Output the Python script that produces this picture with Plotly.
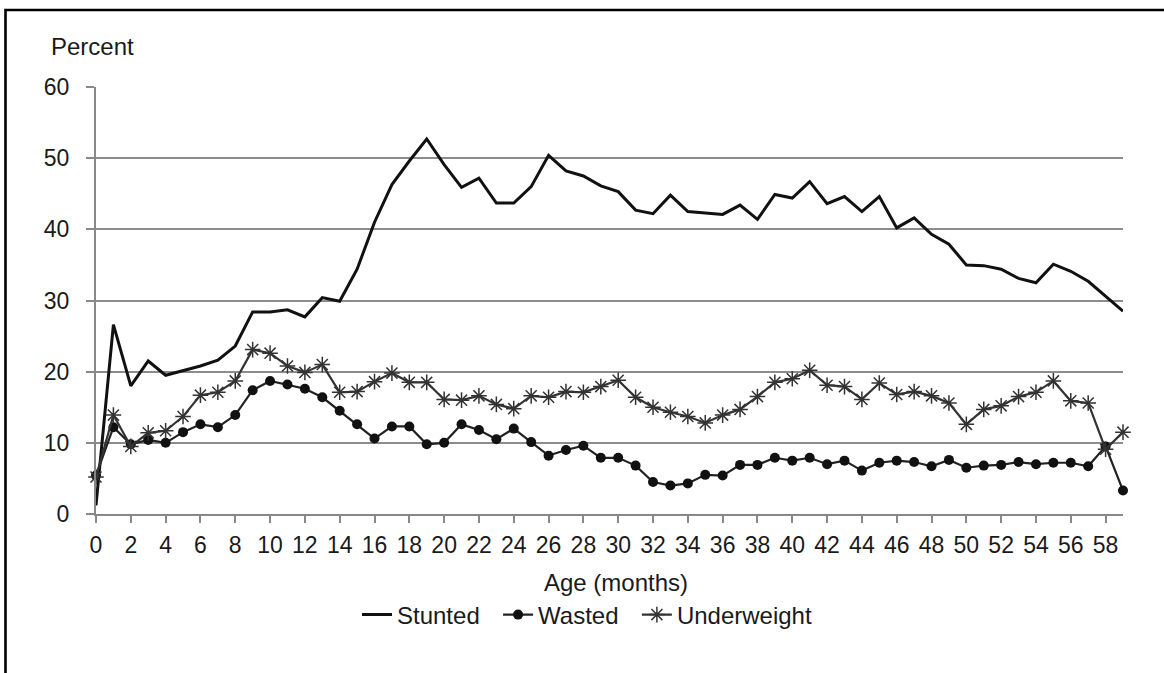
import plotly.graph_objects as go

months = list(range(60))

stunted = [1.2, 26.6, 18.0, 21.5, 19.5, 20.1, 20.8, 21.6, 23.6, 28.4,
           28.4, 28.7, 27.7, 30.4, 29.9, 34.4, 41.0, 46.3, 49.6, 52.7,
           49.1, 45.9, 47.2, 43.7, 43.7, 46.0, 50.4, 48.2, 47.5, 46.1,
           45.3, 42.7, 42.2, 44.8, 42.5, 42.3, 42.1, 43.4, 41.4, 44.9,
           44.4, 46.7, 43.6, 44.6, 42.5, 44.6, 40.2, 41.6, 39.3, 37.9,
           35.0, 34.9, 34.4, 33.1, 32.5, 35.1, 34.1, 32.7, 30.6, 28.5]

wasted = [5.4, 12.2, 9.8, 10.4, 10.0, 11.5, 12.6, 12.2, 13.9, 17.4,
          18.7, 18.2, 17.6, 16.4, 14.5, 12.6, 10.6, 12.3, 12.3, 9.8,
          10.0, 12.6, 11.8, 10.5, 12.0, 10.1, 8.2, 9.0, 9.6, 7.9,
          7.9, 6.8, 4.5, 4.0, 4.3, 5.5, 5.4, 6.9, 6.9, 7.9,
          7.5, 7.9, 7.0, 7.5, 6.1, 7.2, 7.5, 7.3, 6.7, 7.6,
          6.5, 6.8, 6.9, 7.3, 7.0, 7.2, 7.2, 6.7, 9.5, 3.3]

underweight = [5.2, 13.9, 9.5, 11.4, 11.7, 13.7, 16.7, 17.1, 18.7, 23.1,
               22.6, 20.8, 19.9, 21.0, 17.1, 17.2, 18.6, 19.8, 18.5, 18.5,
               16.1, 16.0, 16.6, 15.4, 14.8, 16.6, 16.4, 17.2, 17.1, 17.9,
               18.8, 16.4, 15.0, 14.3, 13.7, 12.8, 13.9, 14.7, 16.5, 18.5,
               19.0, 20.2, 18.1, 17.9, 16.1, 18.4, 16.8, 17.2, 16.6, 15.6,
               12.6, 14.7, 15.2, 16.5, 17.1, 18.7, 15.9, 15.6, 9.1, 11.5]

series_names = ["Stunted", "Wasted", "Underweight"]
x_ticks = list(range(0, 60, 2))
y_ticks = [0, 10, 20, 30, 40, 50, 60]

W, H = 1164, 673
L, R, T, B = 96, 41, 87, 159
pw, ph = W - L - R, H - T - B

def px(x):
    return (x - L) / pw

def py(y):
    return (H - B - y) / ph

FONT = "Liberation Sans, Arial, sans-serif"
TXT = "#1a1a1a"
PAD = "\u00a0\u00a0"  # extra legend spacing between entries

fig = go.Figure()
fig.add_trace(go.Scatter(x=months, y=stunted, mode="lines", name=series_names[0] + PAD,
                         line=dict(color="#111111", width=3)))
fig.add_trace(go.Scatter(x=months, y=wasted, mode="lines+markers", name=series_names[1] + PAD,
                         line=dict(color="#222222", width=2.2),
                         marker=dict(symbol="circle", size=10, color="#111111"),
                         cliponaxis=False))
fig.add_trace(go.Scatter(x=months, y=underweight, mode="lines+markers", name=series_names[2],
                         line=dict(color="#333333", width=2.2),
                         marker=dict(symbol="asterisk-open", size=13,
                                     line=dict(color="#2a2a2a", width=1.5)),
                         cliponaxis=False))

fig.update_layout(
    width=W, height=H,
    margin=dict(l=L, r=R, t=T, b=B),
    paper_bgcolor="white", plot_bgcolor="white",
    font=dict(family=FONT, size=23, color=TXT),
    showlegend=True,
    legend=dict(orientation="h", x=px(357), xanchor="left", y=py(615), yanchor="middle",
                font=dict(size=24), itemwidth=30, tracegroupgap=0,
                bgcolor="rgba(0,0,0,0)"),
    xaxis=dict(range=[0, 59], tickvals=x_ticks, ticktext=[str(v) for v in x_ticks],
               ticks="outside", ticklen=7, tickwidth=1.5, tickcolor="#888888",
               showline=True, linecolor="#888888", linewidth=2,
               showgrid=False, zeroline=False, ticklabelstandoff=2,
               tickfont=dict(size=23)),
    yaxis=dict(range=[0, 60], tickvals=y_ticks,
               ticks="outside", ticklen=8, tickwidth=1.5, tickcolor="#888888",
               showline=True, linecolor="#888888", linewidth=2,
               showgrid=True, gridcolor="#8c8c8c", gridwidth=2,
               zeroline=False, ticklabelstandoff=12,
               tickfont=dict(size=23)),
    annotations=[
        dict(text="Percent", x=px(49), xanchor="left", y=py(46.5), yanchor="middle",
             xref="paper", yref="paper", showarrow=False, font=dict(size=24)),
        dict(text="Age (months)", x=px(616), xanchor="center", y=py(582), yanchor="middle",
             xref="paper", yref="paper", showarrow=False, font=dict(size=24)),
    ],
    shapes=[dict(type="rect", xref="paper", yref="paper",
                 x0=px(5.5), x1=px(1200), y0=py(720), y1=py(10),
                 line=dict(color="black", width=2.6), fillcolor="rgba(0,0,0,0)", layer="below")],
)

fig.write_html("out.html", config={"displayModeBar": False},
               post_script="document.body.style.margin='0';")
